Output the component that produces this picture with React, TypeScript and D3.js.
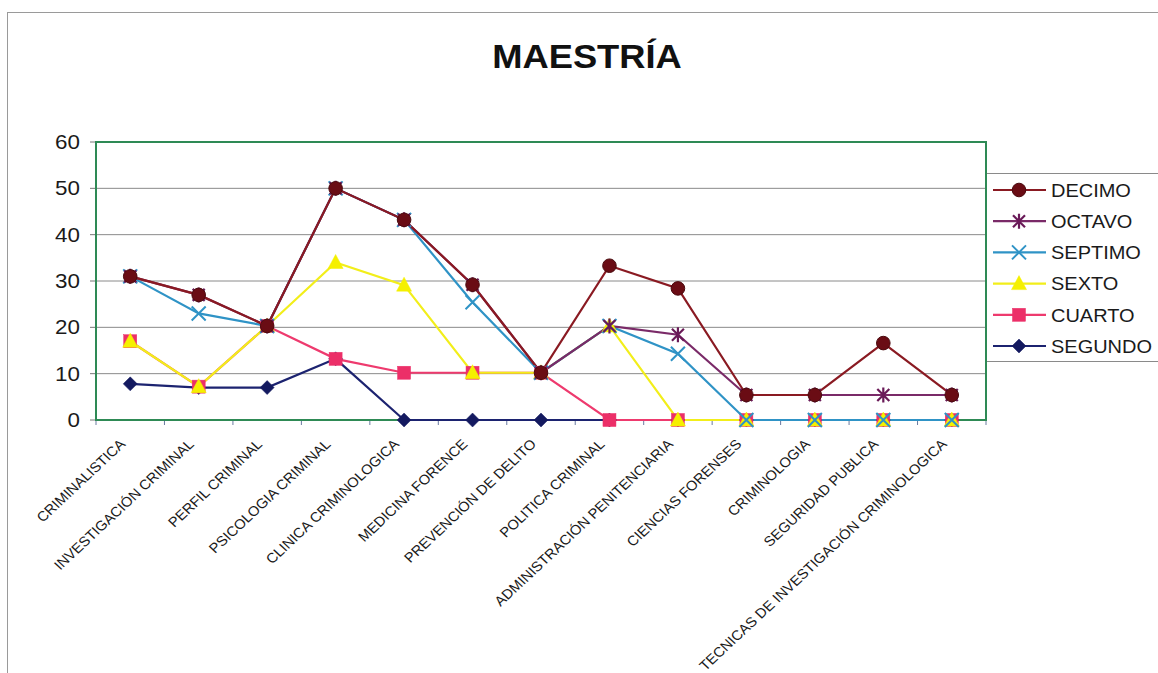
import React from "react";
import * as d3 from "d3";

const categories = [
  "CRIMINALISTICA",
  "INVESTIGACIÓN CRIMINAL",
  "PERFIL CRIMINAL",
  "PSICOLOGIA CRIMINAL",
  "CLINICA CRIMINOLOGICA",
  "MEDICINA FORENCE",
  "PREVENCIÓN DE DELITO",
  "POLITICA CRIMINAL",
  "ADMINISTRACIÓN PENITENCIARIA",
  "CIENCIAS FORENSES",
  "CRIMINOLOGIA",
  "SEGURIDAD PUBLICA",
  "TECNICAS DE INVESTIGACIÓN CRIMINOLOGICA",
];

const decimo = [31, 27, 20.3, 50, 43.2, 29.2, 10.2, 33.3, 28.4, 5.4, 5.4, 16.6, 5.4];
const octavo = [31, 27, 20.3, 50, 43.2, 29.2, 10.2, 20.3, 18.4, 5.4, 5.4, 5.4, 5.4];
const septimo = [31, 23, 20.3, 50, 43.2, 25.4, 10.2, 20.3, 14.3, 0, 0, 0, 0];
const sexto = [17, 7.2, 20.3, 34, 29.1, 10.2, 10.2, 20.3, 0, 0, 0, 0, 0];
const cuarto = [17, 7.2, 20.3, 13.2, 10.2, 10.2, 10.2, 0, 0, 0, 0, 0, 0];
const segundo = [7.8, 7, 7, 13.2, 0, 0, 0, 0, 0, 0, 0, 0, 0];

const yTicks = [0, 10, 20, 30, 40, 50, 60];
const title = "MAESTRÍA";

type Shape = "circle" | "star" | "x" | "triangle" | "square" | "diamond";

const series: { name: string; values: number[]; line: string; fill: string; stroke: string; shape: Shape }[] = [
  { name: "DECIMO", values: decimo, line: "#8a1a22", fill: "#6a0c14", stroke: "#4a0a0e", shape: "circle" },
  { name: "OCTAVO", values: octavo, line: "#7a2a68", fill: "#6a1a58", stroke: "#6a1a58", shape: "star" },
  { name: "SEPTIMO", values: septimo, line: "#2f93c6", fill: "#2f93c6", stroke: "#2f93c6", shape: "x" },
  { name: "SEXTO", values: sexto, line: "#f2ee1a", fill: "#f5f000", stroke: "#f5f000", shape: "triangle" },
  { name: "CUARTO", values: cuarto, line: "#ee3a6e", fill: "#ec2f68", stroke: "#ec2f68", shape: "square" },
  { name: "SEGUNDO", values: segundo, line: "#1c2370", fill: "#141a60", stroke: "#141a60", shape: "diamond" },
];

const W = 1158;
const H = 673;
const plot = { left: 96, right: 986, top: 142, bottom: 420 };
const FONT = "Arial, 'Liberation Sans', sans-serif";

function Marker({ shape, x, y, s }: { shape: Shape; x: number; y: number; s: (typeof series)[number] }) {
  const t = `translate(${x},${y})`;
  switch (shape) {
    case "circle":
      return <circle cx={x} cy={y} r={6.8} fill={s.fill} stroke={s.stroke} strokeWidth={1} />;
    case "star":
      return (
        <path
          transform={t}
          d="M-6,-6L6,6M-6,6L6,-6M0,-7.5L0,7.5"
          stroke={s.stroke}
          strokeWidth={2.2}
          fill="none"
        />
      );
    case "x":
      return <path transform={t} d="M-7,-7L7,7M-7,7L7,-7" stroke={s.stroke} strokeWidth={2} fill="none" />;
    case "triangle":
      return <path transform={t} d="M0,-8L7.5,6L-7.5,6Z" fill={s.fill} stroke={s.stroke} strokeWidth={0.5} />;
    case "square":
      return <rect x={x - 6.5} y={y - 6.5} width={13} height={13} fill={s.fill} stroke={s.stroke} strokeWidth={0.5} />;
    case "diamond":
      return <path transform={t} d="M0,-7L7,0L0,7L-7,0Z" fill={s.fill} stroke={s.stroke} strokeWidth={0.5} />;
  }
}

export default function App() {
  const x = d3.scalePoint<string>().domain(categories).range([plot.left, plot.right]).padding(0.5);
  const y = d3.scaleLinear().domain([0, 60]).range([plot.bottom, plot.top]);
  const step = x.step();
  const line = d3
    .line<number>()
    .x((_, i) => x(categories[i]) as number)
    .y((d) => y(d));

  const drawOrder = [...series].reverse();
  const legendY = d3.scalePoint<string>().domain(series.map((s) => s.name)).range([190, 346]);

  return (
    <div style={{ position: "fixed", left: 0, top: 0 }}>
      <svg width={W} height={H} style={{ display: "block", background: "#fff" }}>
        {/* chart area border */}
        <rect x={7.5} y={12.5} width={1200} height={700} fill="#fff" stroke="#9a9a9a" strokeWidth={1} />

        {/* title */}
        <text
          transform={`translate(${587},${68}) scale(1.1,1)`}
          textAnchor="middle"
          fontFamily={FONT}
          fontWeight="bold"
          fontSize={33}
          fill="#111"
        >
          {title}
        </text>

        {/* gridlines */}
        {yTicks.map((t) => (
          <line key={"g" + t} x1={plot.left} x2={plot.right} y1={y(t)} y2={y(t)} stroke="#8a8a8a" strokeWidth={1} />
        ))}
        {/* y ticks + labels */}
        {yTicks.map((t) => (
          <g key={"y" + t}>
            <line x1={plot.left - 6} x2={plot.left} y1={y(t)} y2={y(t)} stroke="#777" strokeWidth={1} />
            <text
              transform={`translate(${80},${y(t) + 7}) scale(1.12,1)`}
              textAnchor="end"
              fontFamily={FONT}
              fontSize={20}
              fill="#1a1a1a"
            >
              {t}
            </text>
          </g>
        ))}
        {/* x ticks */}
        {d3.range(categories.length + 1).map((i) => (
          <line
            key={"xt" + i}
            x1={plot.left + i * step}
            x2={plot.left + i * step}
            y1={plot.bottom}
            y2={plot.bottom + 5}
            stroke="#6a7aa0"
            strokeWidth={1}
          />
        ))}
        {/* x labels */}
        {categories.map((c) => (
          <text
            key={"xl" + c}
            transform={`translate(${(x(c) as number) - 4},${445}) scale(1.07,1) rotate(-45)`}
            textAnchor="end"
            fontFamily={FONT}
            fontSize={13.8}
            fill="#1a1a1a"
          >
            {c}
          </text>
        ))}

        {/* plot border */}
        <rect
          x={plot.left}
          y={plot.top}
          width={plot.right - plot.left}
          height={plot.bottom - plot.top}
          fill="none"
          stroke="#2e8a55"
          strokeWidth={2}
        />

        {/* series lines */}
        {drawOrder.map((s) => (
          <path key={"l" + s.name} d={line(s.values) as string} fill="none" stroke={s.line} strokeWidth={2.2} />
        ))}
        {/* markers */}
        {drawOrder.map((s) => (
          <g key={"m" + s.name}>
            {s.values.map((v, i) => (
              <Marker key={i} shape={s.shape} x={x(categories[i]) as number} y={y(v)} s={s} />
            ))}
          </g>
        ))}

        {/* legend */}
        <rect x={986} y={173.5} width={200} height={188} fill="#fff" stroke="#8a8a8a" strokeWidth={1} />
        <line x1={986} x2={986} y1={plot.top} y2={plot.bottom} stroke="#2e8a55" strokeWidth={2} />
        {series.map((s) => {
          const ly = legendY(s.name) as number;
          return (
            <g key={"lg" + s.name}>
              <line x1={993} x2={1046} y1={ly} y2={ly} stroke={s.line} strokeWidth={2.2} />
              <Marker shape={s.shape} x={1019} y={ly} s={s} />
              <text
                transform={`translate(${1051},${ly + 6.7}) scale(1.08,1)`}
                fontFamily={FONT}
                fontSize={18.5}
                fill="#1a1a1a"
              >
                {s.name}
              </text>
            </g>
          );
        })}
      </svg>
    </div>
  );
}
